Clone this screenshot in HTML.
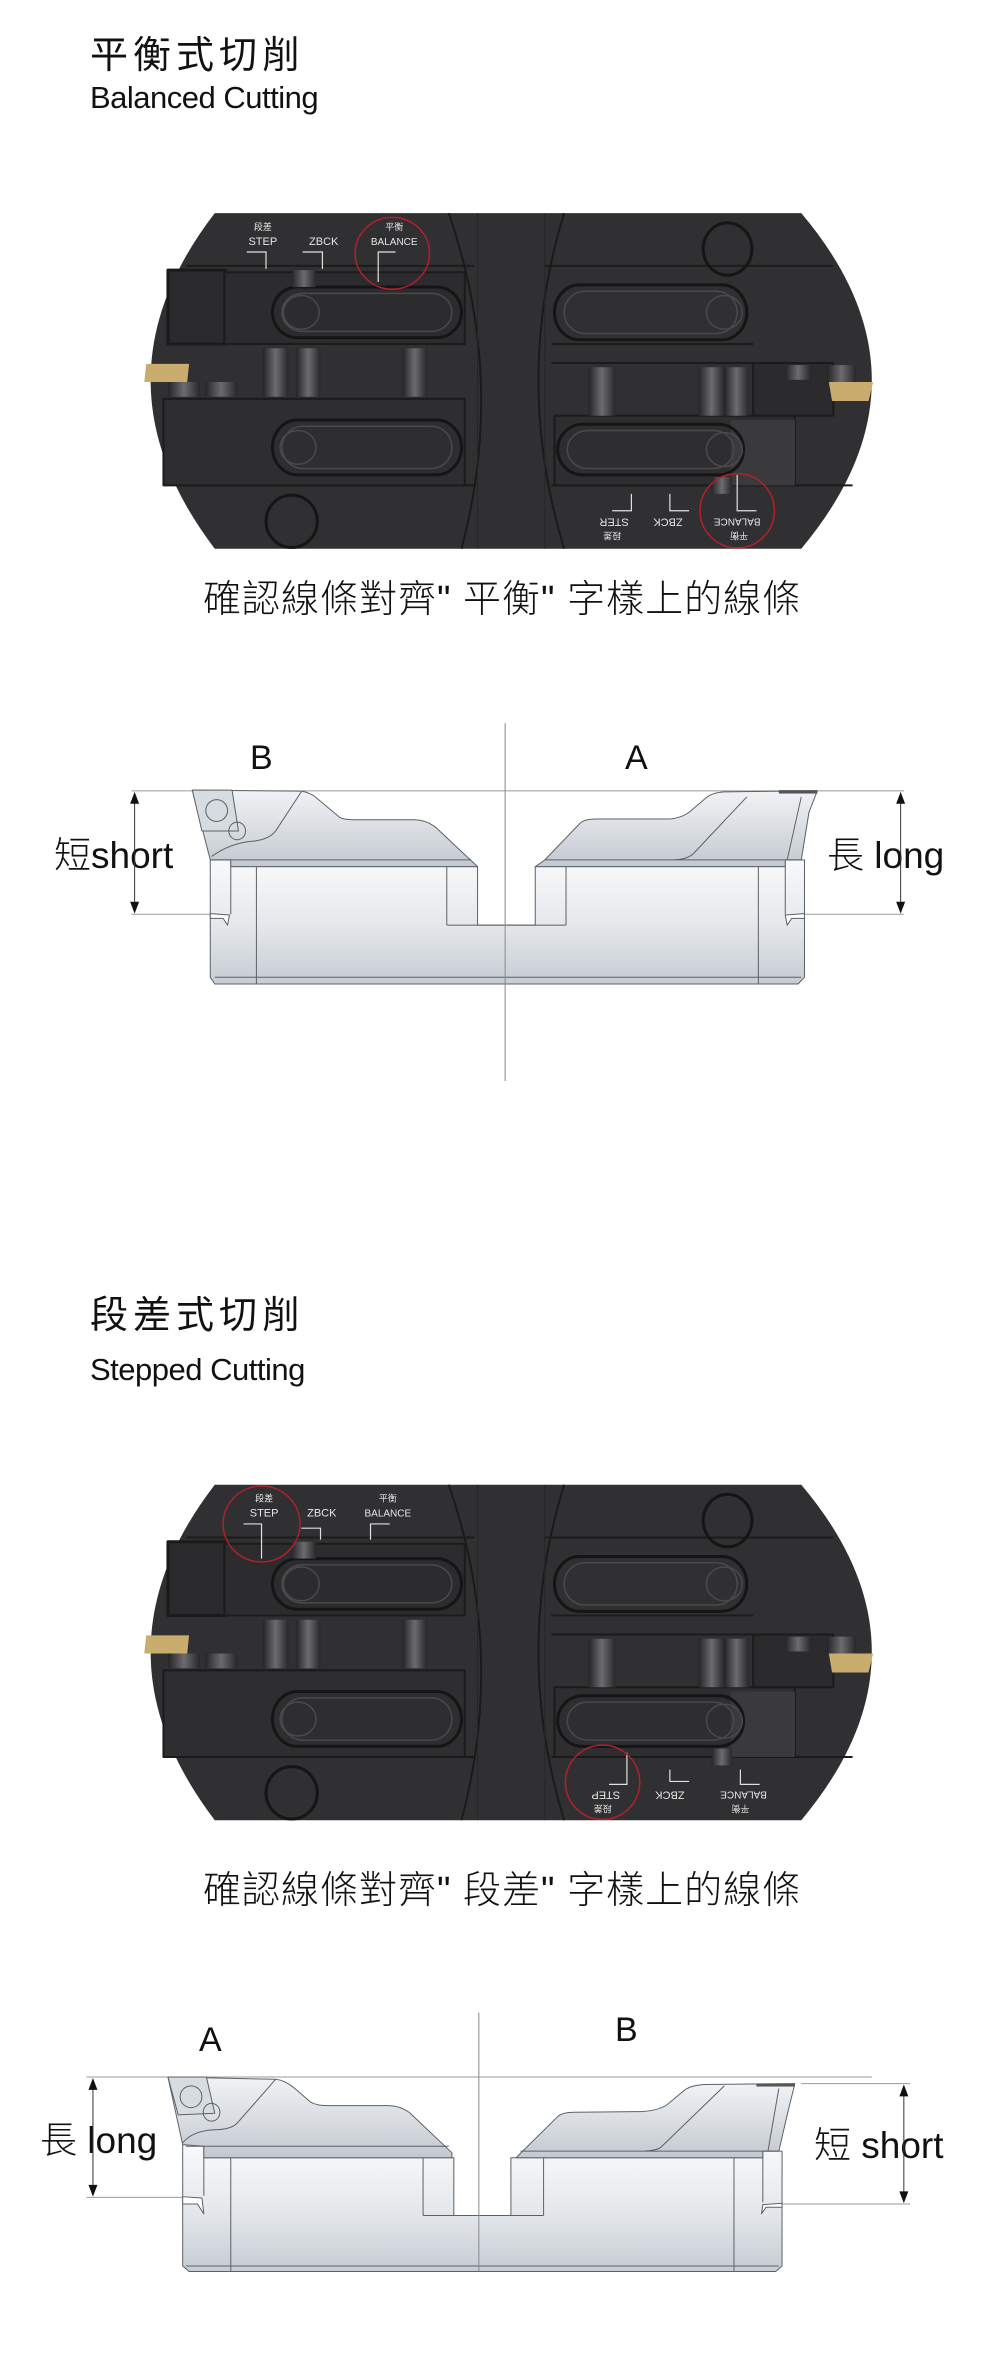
<!DOCTYPE html>
<html><head><meta charset="utf-8">
<style>
html,body{margin:0;padding:0;background:#fff;}
body{width:1000px;height:2354px;position:relative;overflow:hidden;}
.t{position:absolute;white-space:nowrap;line-height:1;color:#111;}
.cjk{font-family:"Liberation Sans","Noto Sans CJK TC","Noto Sans CJK SC",sans-serif;font-weight:300;}
.lat{font-family:"Liberation Sans",sans-serif;}
svg{position:absolute;left:0;}
</style></head>
<body>

<div class="t cjk" style="left:90px;top:37px;font-size:38px;letter-spacing:5px;font-weight:400;">平衡式切削</div>
<div class="t lat" style="left:90px;top:82px;font-size:31px;letter-spacing:-0.5px;">Balanced Cutting</div>

<svg style="top:0" width="1000" height="650" viewBox="0 0 1560 1540" preserveAspectRatio="none">
<defs>
<linearGradient id="pin" x1="0" x2="1" y1="0" y2="0"><stop offset="0" stop-color="#252527"/><stop offset="0.5" stop-color="#6c6c6e"/><stop offset="1" stop-color="#28282a"/></linearGradient>
<symbol id="body" viewBox="0 0 1560 1540" width="1560" height="1540" overflow="visible">
<g stroke-linejoin="round">
<path d="M335,505 L1250,505 Q1470,900 1250,1300 L335,1300 Q135,900 335,505Z" fill="#303032"/>
<rect x="262" y="640" width="90" height="175" fill="#2a2a2c" stroke="#1a1a1a" stroke-width="3" vector-effect="non-scaling-stroke"/>
<path d="M700,505 Q790,900 720,1300" fill="none" stroke="#1a1a1a" stroke-width="2" vector-effect="non-scaling-stroke"/>
<path d="M880,505 Q800,900 880,1300" fill="none" stroke="#1a1a1a" stroke-width="2" vector-effect="non-scaling-stroke"/>
<path d="M745,505 V1300 M850,505 V1300" stroke="#262628" stroke-width="1" vector-effect="non-scaling-stroke"/>
<g fill="none" stroke="#1b1b1b" stroke-width="2" vector-effect="non-scaling-stroke">
<path d="M290,630 H740 M262,945 H725 M280,1150 H740 M850,630 H1300 M860,815 H1175 M860,860 H1175 M860,1150 H1330" vector-effect="non-scaling-stroke"/>
<rect x="350" y="645" width="375" height="170" fill="#2c2c2e" vector-effect="non-scaling-stroke"/>
<rect x="255" y="945" width="470" height="205" fill="#2e2e30" vector-effect="non-scaling-stroke"/>
<rect x="865" y="985" width="375" height="165" fill="#2e2e30" vector-effect="non-scaling-stroke"/>
<rect x="1175" y="860" width="125" height="125" fill="#2b2b2d" vector-effect="non-scaling-stroke"/>
</g>
<rect x="1140" y="995" width="100" height="155" fill="#3a3a3c"/>
<g fill="none" stroke="#151515" stroke-width="3" vector-effect="non-scaling-stroke">
<rect x="425" y="680" width="295" height="120" rx="39" ry="60" vector-effect="non-scaling-stroke"/>
<rect x="425" y="995" width="295" height="130" rx="39" ry="65" vector-effect="non-scaling-stroke"/>
<rect x="865" y="675" width="300" height="130" rx="39" ry="65" vector-effect="non-scaling-stroke"/>
<rect x="870" y="1005" width="290" height="120" rx="39" ry="60" vector-effect="non-scaling-stroke"/>
<ellipse cx="1135" cy="590" rx="38" ry="62" vector-effect="non-scaling-stroke"/>
<ellipse cx="455" cy="1235" rx="40" ry="62" vector-effect="non-scaling-stroke"/>
</g>
<g fill="none" stroke="#4a4a4c" stroke-width="1.5" vector-effect="non-scaling-stroke">
<rect x="440" y="695" width="265" height="90" rx="32" ry="45" vector-effect="non-scaling-stroke"/>
<rect x="440" y="1010" width="265" height="100" rx="32" ry="50" vector-effect="non-scaling-stroke"/>
<rect x="880" y="690" width="270" height="100" rx="32" ry="50" vector-effect="non-scaling-stroke"/>
<rect x="885" y="1020" width="260" height="90" rx="32" ry="45" vector-effect="non-scaling-stroke"/>
<ellipse cx="470" cy="740" rx="28" ry="40" vector-effect="non-scaling-stroke"/>
<ellipse cx="465" cy="1060" rx="28" ry="40" vector-effect="non-scaling-stroke"/>
<ellipse cx="1130" cy="740" rx="28" ry="40" vector-effect="non-scaling-stroke"/>
<ellipse cx="1130" cy="1065" rx="28" ry="40" vector-effect="non-scaling-stroke"/>
</g>
<g fill="url(#pin)">
<rect x="410" y="825" width="40" height="115"/><rect x="462" y="825" width="38" height="115"/><rect x="628" y="825" width="38" height="115"/><rect x="455" y="640" width="38" height="40"/>
<rect x="918" y="870" width="42" height="115"/><rect x="1090" y="870" width="40" height="115"/><rect x="1130" y="870" width="38" height="115"/><rect x="1290" y="865" width="45" height="40"/><rect x="1110" y="1130" width="32" height="40"/>
<rect x="262" y="905" width="50" height="35"/><rect x="320" y="905" width="50" height="35"/><rect x="1225" y="865" width="40" height="35"/>
</g>
<polygon points="228,862 295,862 292,905 225,905" fill="#c9ad6e"/>
<polygon points="1293,905 1362,905 1355,950 1298,950" fill="#c9ad6e"/>
</g>
</symbol>
</defs>
<use href="#body"/>
<g fill="none" stroke="#e0e0e0" stroke-width="1.2">
<polyline points="385,597 415,597 415,637" vector-effect="non-scaling-stroke"/>
<polyline points="472,597 503,597 503,637" vector-effect="non-scaling-stroke"/>
<polyline points="617,597 590,597 590,668" vector-effect="non-scaling-stroke"/>
<polyline points="985,1170 985,1210 955,1210" vector-effect="non-scaling-stroke"/>
<polyline points="1045,1170 1045,1210 1075,1210" vector-effect="non-scaling-stroke"/>
<polyline points="1150,1125 1150,1210 1180,1210" vector-effect="non-scaling-stroke"/>
</g>
<g fill="none" stroke="#b3202c" stroke-width="1.5">
<ellipse cx="612" cy="600" rx="58" ry="85" vector-effect="non-scaling-stroke"/>
<ellipse cx="1150" cy="1210" rx="58" ry="88" vector-effect="non-scaling-stroke"/>
</g>
<g fill="#e6e6e6" text-anchor="middle" font-family="Liberation Sans, Noto Sans CJK TC, sans-serif">
<g transform="translate(410,545) scale(1.56,2.37)"><text font-size="9">段差</text></g>
<g transform="translate(410,580) scale(1.56,2.37)"><text font-size="11">STEP</text></g>
<g transform="translate(505,580) scale(1.56,2.37)"><text font-size="11">ZBCK</text></g>
<g transform="translate(615,545) scale(1.56,2.37)"><text font-size="9">平衡</text></g>
<g transform="translate(615,580) scale(1.56,2.37)"><text font-size="10">BALANCE</text></g>
<g transform="translate(958,1229) scale(1.56,2.37) rotate(180)"><text font-size="11">STER</text></g>
<g transform="translate(955,1262) scale(1.56,2.37) rotate(180)"><text font-size="9">段差</text></g>
<g transform="translate(1042,1229) scale(1.56,2.37) rotate(180)"><text font-size="11">ZBCK</text></g>
<g transform="translate(1150,1229) scale(1.56,2.37) rotate(180)"><text font-size="10">BALANCE</text></g>
<g transform="translate(1153,1262) scale(1.56,2.37) rotate(180)"><text font-size="9">平衡</text></g>
</g>
</svg>

<div class="t cjk" style="left:203px;top:581px;font-size:38px;letter-spacing:1px;">確認線條對齊" 平衡" 字樣上的線條</div>

<!-- Diagram 2 -->
<div class="t lat" style="left:250px;top:741px;font-size:34px;">B</div>
<div class="t lat" style="left:625px;top:741px;font-size:34px;">A</div>
<div class="t lat" style="left:54px;top:837px;font-size:37px;"><span class="cjk">短</span>short</div>
<div class="t lat" style="left:827px;top:837px;font-size:37px;"><span class="cjk">長</span> long</div>

<svg style="top:700px" width="1000" height="400" viewBox="0 0 1560 1176" preserveAspectRatio="none">
<defs>
<linearGradient id="hg" x1="0" x2="0" y1="0" y2="1"><stop offset="0" stop-color="#f1f3f5"/><stop offset="1" stop-color="#c3c9d0"/></linearGradient>
<linearGradient id="cg" x1="0" x2="0" y1="0" y2="1"><stop offset="0" stop-color="#f8f9fa"/><stop offset="0.5" stop-color="#e6e9ec"/><stop offset="1" stop-color="#c6ccd3"/></linearGradient>
</defs>
<g stroke="#9a9a9a" stroke-width="1" fill="none">
<path d="M205,267 H1410 M205,630 H330 M1255,630 H1410" vector-effect="non-scaling-stroke"/>
</g>
<g stroke="#5c6168" stroke-width="1" stroke-linejoin="round">
<path d="M328,470 H360 V490 H745 V662 H835 V490 H1225 V470 H1255 V815 L1245,835 H335 L328,815 Z" fill="url(#cg)" vector-effect="non-scaling-stroke"/>
<path d="M400,490 V835 M1183,490 V835 M335,815 H1250 M697,490 V662 M883,490 V662 M360,490 V630 M1225,490 V630 M697,662 H883" fill="none" vector-effect="non-scaling-stroke"/>
<path d="M328,628 L358,632 L355,662 L348,642 L328,642 Z" fill="#fff" vector-effect="non-scaling-stroke"/>
<path d="M1255,628 L1225,632 L1228,662 L1235,642 L1255,642 Z" fill="#fff" vector-effect="non-scaling-stroke"/>
<path d="M300,265 L470,268 Q485,272 495,290 L530,345 Q537,352 550,352 L645,352 Q665,352 680,375 L745,490 L360,490 L360,470 L328,470 Z" fill="url(#hg)" vector-effect="non-scaling-stroke"/>
<path d="M470,270 L430,385 Q420,410 395,415 Q360,420 330,460 M330,470 H735" fill="none" vector-effect="non-scaling-stroke"/>
<polygon points="300,265 362,265 372,385 315,385" fill="#d7dce1" vector-effect="non-scaling-stroke"/>
<ellipse cx="338" cy="325" rx="17" ry="32" fill="none" vector-effect="non-scaling-stroke"/>
<ellipse cx="370" cy="385" rx="13" ry="26" fill="none" vector-effect="non-scaling-stroke"/>
<path d="M835,490 L850,470 L905,362 Q912,350 930,350 L1040,350 Q1060,350 1075,330 L1100,290 Q1110,272 1130,270 L1275,267 L1262,330 L1250,470 L1225,470 V490 Z" fill="url(#hg)" vector-effect="non-scaling-stroke"/>
<path d="M1165,285 L1085,445 Q1075,470 1050,470 M1250,285 L1228,470 M850,470 H1250" fill="none" vector-effect="non-scaling-stroke"/>
</g>
<rect x="1215" y="265" width="60" height="10" fill="#555"/>
<path d="M788,68 V1120" stroke="#888" stroke-width="1" vector-effect="non-scaling-stroke"/>
<g stroke="#333" stroke-width="1">
<path d="M210,300 V600 M1405,300 V600" vector-effect="non-scaling-stroke"/>
</g>
<g fill="#111">
<polygon points="210,270 203,305 217,305"/><polygon points="210,628 203,593 217,593"/>
<polygon points="1405,270 1398,305 1412,305"/><polygon points="1405,628 1398,593 1412,593"/>
</g>
</svg>

<!-- Section 2 -->
<div class="t cjk" style="left:90px;top:1297px;font-size:38px;letter-spacing:5px;font-weight:400;">段差式切削</div>
<div class="t lat" style="left:90px;top:1354px;font-size:31px;letter-spacing:-0.5px;">Stepped Cutting</div>

<svg style="top:1280px" width="1000" height="650" viewBox="0 0 1560 1540" preserveAspectRatio="none">
<use href="#body" transform="translate(0,-20)"/>
<g fill="none" stroke="#e0e0e0" stroke-width="1.2">
<polyline points="380,578 408,578 408,660" vector-effect="non-scaling-stroke"/>
<polyline points="470,588 500,588 500,615" vector-effect="non-scaling-stroke"/>
<polyline points="608,578 578,578 578,615" vector-effect="non-scaling-stroke"/>
<polyline points="978,1120 978,1195 950,1195" vector-effect="non-scaling-stroke"/>
<polyline points="1045,1160 1045,1188 1075,1188" vector-effect="non-scaling-stroke"/>
<polyline points="1155,1160 1155,1195 1185,1195" vector-effect="non-scaling-stroke"/>
</g>
<g fill="none" stroke="#b3202c" stroke-width="1.5">
<ellipse cx="408" cy="578" rx="60" ry="90" vector-effect="non-scaling-stroke"/>
<ellipse cx="940" cy="1190" rx="58" ry="88" vector-effect="non-scaling-stroke"/>
</g>
<g fill="#e6e6e6" text-anchor="middle" font-family="Liberation Sans, Noto Sans CJK TC, sans-serif">
<g transform="translate(412,525) scale(1.56,2.37)"><text font-size="9">段差</text></g>
<g transform="translate(412,560) scale(1.56,2.37)"><text font-size="11">STEP</text></g>
<g transform="translate(502,560) scale(1.56,2.37)"><text font-size="11">ZBCK</text></g>
<g transform="translate(605,525) scale(1.56,2.37)"><text font-size="9">平衡</text></g>
<g transform="translate(605,560) scale(1.56,2.37)"><text font-size="10">BALANCE</text></g>
<g transform="translate(945,1212) scale(1.56,2.37) rotate(180)"><text font-size="11">STEP</text></g>
<g transform="translate(940,1245) scale(1.56,2.37) rotate(180)"><text font-size="9">段差</text></g>
<g transform="translate(1045,1212) scale(1.56,2.37) rotate(180)"><text font-size="11">ZBCK</text></g>
<g transform="translate(1160,1212) scale(1.56,2.37) rotate(180)"><text font-size="10">BALANCE</text></g>
<g transform="translate(1155,1245) scale(1.56,2.37) rotate(180)"><text font-size="9">平衡</text></g>
</g>
</svg>

<div class="t cjk" style="left:203px;top:1872px;font-size:38px;letter-spacing:1px;">確認線條對齊" 段差" 字樣上的線條</div>

<!-- Diagram 4 -->
<div class="t lat" style="left:199px;top:2023px;font-size:34px;">A</div>
<div class="t lat" style="left:615px;top:2013px;font-size:34px;">B</div>
<div class="t lat" style="left:40px;top:2122px;font-size:37px;"><span class="cjk">長</span> long</div>
<div class="t lat" style="left:814px;top:2127px;font-size:37px;"><span class="cjk">短</span> short</div>

<svg style="top:1950px" width="1000" height="404" viewBox="0 0 1560 1225" preserveAspectRatio="none">
<defs>
<linearGradient id="hg2" x1="0" x2="0" y1="0" y2="1"><stop offset="0" stop-color="#f1f3f5"/><stop offset="1" stop-color="#c3c9d0"/></linearGradient>
<linearGradient id="cg2" x1="0" x2="0" y1="0" y2="1"><stop offset="0" stop-color="#f8f9fa"/><stop offset="0.5" stop-color="#e6e9ec"/><stop offset="1" stop-color="#c6ccd3"/></linearGradient>
</defs>
<g stroke="#9a9a9a" stroke-width="1" fill="none">
<path d="M135,385 H1360 M1250,405 H1420 M135,750 H285 M1215,770 H1420" vector-effect="non-scaling-stroke"/>
</g>
<g stroke="#5c6168" stroke-width="1" stroke-linejoin="round">
<path d="M285,590 H318 V630 H708 V805 H797 V630 H1190 V610 H1220 V958 L1210,975 H295 L285,958 Z" fill="url(#cg2)" vector-effect="non-scaling-stroke"/>
<path d="M360,630 V975 M1145,630 V975 M290,958 H1215 M660,630 V805 M848,630 V805 M318,630 V745 M1190,630 V765 M660,805 H848" fill="none" vector-effect="non-scaling-stroke"/>
<path d="M285,748 L315,752 L318,800 L308,770 L285,770 Z" fill="#fff" vector-effect="non-scaling-stroke"/>
<path d="M1220,768 L1190,772 L1188,800 L1195,780 L1220,780 Z" fill="#fff" vector-effect="non-scaling-stroke"/>
<path d="M262,385 L430,392 Q445,395 460,420 L485,462 Q495,472 510,472 L605,472 Q625,472 640,495 L705,615 V630 H318 V595 L285,590 Z" fill="url(#hg2)" vector-effect="non-scaling-stroke"/>
<path d="M430,392 L370,525 Q360,545 335,545 Q300,548 285,585 M290,595 H700" fill="none" vector-effect="non-scaling-stroke"/>
<polygon points="262,385 322,385 335,495 278,500" fill="#d7dce1" vector-effect="non-scaling-stroke"/>
<ellipse cx="298" cy="445" rx="17" ry="33" fill="none" vector-effect="non-scaling-stroke"/>
<ellipse cx="330" cy="492" rx="13" ry="27" fill="none" vector-effect="non-scaling-stroke"/>
<path d="M805,630 L870,505 Q878,492 895,492 L1000,490 Q1025,488 1040,470 L1068,425 Q1078,410 1100,408 L1240,405 L1228,500 L1215,610 L1190,610 V630 Z" fill="url(#hg2)" vector-effect="non-scaling-stroke"/>
<path d="M1130,412 L1030,600 Q1020,610 1000,610 M1215,420 L1198,610 M812,610 H1215" fill="none" vector-effect="non-scaling-stroke"/>
</g>
<rect x="1180" y="405" width="60" height="9" fill="#555"/>
<path d="M747,190 V975" stroke="#888" stroke-width="1" vector-effect="non-scaling-stroke"/>
<g stroke="#333" stroke-width="1">
<path d="M145,420 V715 M1410,440 V735" vector-effect="non-scaling-stroke"/>
</g>
<g fill="#111">
<polygon points="145,388 138,424 152,424"/><polygon points="145,748 138,712 152,712"/>
<polygon points="1410,408 1403,444 1417,444"/><polygon points="1410,768 1403,732 1417,732"/>
</g>
</svg>

</body></html>
